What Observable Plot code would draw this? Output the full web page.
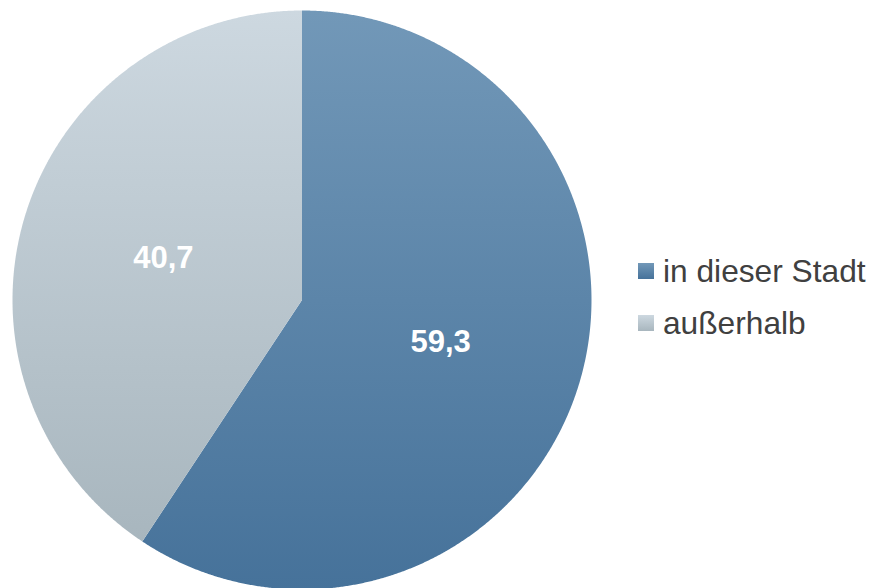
<!DOCTYPE html>
<html>
<head>
<meta charset="utf-8">
<script src="https://cdn.jsdelivr.net/npm/d3@7"></script>
<script src="https://cdn.jsdelivr.net/npm/@observablehq/plot@0.6"></script>
<style>
  html, body { margin: 0; padding: 0; background: #ffffff; }
  #wrap { position: relative; width: 872px; height: 588px; overflow: hidden; font-family: "Liberation Sans", Arial, sans-serif; }
  #legend { position: absolute; left: 638px; top: 252px; }
  .row { display: flex; align-items: center; height: 38px; margin-bottom: 14px; color: #404040; font-size: 31.7px; white-space: nowrap; }
  .sw { width: 16px; height: 16px; margin-right: 9px; }
</style>
</head>
<body>
<div id="wrap"></div>
<script>
const categories = ["in dieser Stadt", "außerhalb"];
const values = [59.3, 40.7];
const valueLabels = ["59,3", "40,7"];
const gradTop = ["#7298b8", "#cdd8e0"];
const gradBottom = ["#46729a", "#a8b6be"];

const total = d3.sum(values);
let acc = 0;
const slices = categories.map((c, i) => {
  const a0 = acc / total * 2 * Math.PI;
  acc += values[i];
  const a1 = acc / total * 2 * Math.PI;
  return {cat: c, i, a0, a1, mid: (a0 + a1) / 2, label: valueLabels[i]};
});

// polygon outline of each slice (geometry derived from the values)
const pts = [];
for (const s of slices) {
  pts.push({cat: s.cat, x: 0, y: 0});
  const n = Math.max(2, Math.ceil((s.a1 - s.a0) / (Math.PI / 720)));
  for (let k = 0; k <= n; k++) {
    const a = s.a0 + (s.a1 - s.a0) * k / n;
    pts.push({cat: s.cat, x: Math.sin(a), y: Math.cos(a)});
  }
  pts.push({cat: s.cat, x: 0, y: 0});
}

const labelPts = slices.map(s => ({label: s.label, x: 0.5 * Math.sin(s.mid), y: 0.5 * Math.cos(s.mid)}));

const defs = () => {
  const d = d3.create("svg:defs");
  slices.forEach((s, i) => {
    const g = d.append("linearGradient").attr("id", "g" + i).attr("x1", 0).attr("y1", 0).attr("x2", 0).attr("y2", 1);
    g.append("stop").attr("offset", "0%").attr("stop-color", gradTop[i]);
    g.append("stop").attr("offset", "100%").attr("stop-color", gradBottom[i]);
  });
  return d.node();
};

const chart = Plot.plot({
  width: 872,
  height: 588,
  margin: 0,
  x: {domain: [-1, 1], range: [12, 591], axis: null},
  y: {domain: [-1, 1], range: [589, 10], axis: null},
  marks: [
    defs,
    ...slices.map((s, i) => Plot.line(pts.filter(p => p.cat === s.cat), {x: "x", y: "y", fill: `url(#g${i})`, stroke: "none"})),
    Plot.text(labelPts, {x: "x", y: "y", text: "label", fill: "white", fontWeight: "bold", fontSize: 31, fontFamily: "Liberation Sans, Arial, sans-serif"})
  ]
});

const wrap = document.getElementById("wrap");
wrap.appendChild(chart);

const legend = document.createElement("div");
legend.id = "legend";
categories.forEach((c, i) => {
  const row = document.createElement("div");
  row.className = "row";
  const sw = document.createElement("div");
  sw.className = "sw";
  sw.style.background = `linear-gradient(${gradTop[i]}, ${gradBottom[i]})`;
  const t = document.createElement("span");
  t.textContent = c;
  row.appendChild(sw);
  row.appendChild(t);
  legend.appendChild(row);
});
wrap.appendChild(legend);
</script>
</body>
</html>
